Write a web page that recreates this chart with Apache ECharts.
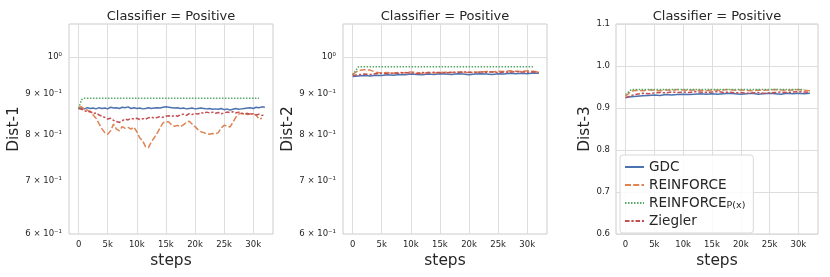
<!DOCTYPE html>
<html><head><meta charset="utf-8">
<script src="https://cdn.jsdelivr.net/npm/echarts@6/dist/echarts.min.js"></script>
<style>html,body{margin:0;padding:0;background:#fff}#c{width:830px;height:277px}</style>
</head><body><div id="c"></div><script>
// ---------- data ----------
const seriesNames = ['GDC', 'REINFORCE', 'REINFORCE_P(x)', 'Ziegler'];
const xTickValues = [0, 5000, 10000, 15000, 20000, 25000, 30000];
const logTickValues = [0.6, 0.7, 0.8, 0.9, 1.0];
const panelTitles = ['Classifier = Positive', 'Classifier = Positive', 'Classifier = Positive'];
const yNames = ['Dist-1', 'Dist-2', 'Dist-3'];

const steps1 = [0,500,1000,1500,2000,2500,3000,3500,4000,4500,5000,5500,6000,6500,7000,7500,8000,8500,9000,9500,
  10000,10500,11000,11500,12000,12500,13000,13500,14000,14500,15000,15500,16000,16500,17000,17500,18000,18500,19000,19500,
  20000,20500,21000,21500,22000,22500,23000,23500,24000,24500,25000,25500,26000,26500,27000,27500,28000,28500,29000,29500,
  30000,30500,31000,31500,32000];
const steps2 = [0,1000,2000,3000,4000,5000,6000,7000,8000,9000,10000,11000,12000,13000,14000,15000,16000,
  17000,18000,19000,20000,21000,22000,23000,24000,25000,26000,27000,28000,29000,30000,31000,32000];

// Dist-1 (500-step)
const d1_gdc = [0.862,0.863,0.861,0.864,0.862,0.863,0.861,0.864,0.862,0.863,0.861,0.865,0.863,0.864,0.862,0.865,0.864,0.866,0.862,0.864,
  0.862,0.863,0.861,0.862,0.864,0.862,0.863,0.864,0.863,0.865,0.866,0.865,0.864,0.863,0.864,0.862,0.863,0.861,0.862,0.863,
  0.861,0.862,0.863,0.862,0.861,0.862,0.860,0.861,0.860,0.862,0.859,0.861,0.858,0.860,0.862,0.860,0.861,0.862,0.863,0.864,
  0.862,0.865,0.864,0.866,0.865];
const d1_reinforce = [0.865,0.866,0.860,0.858,0.853,0.846,0.838,0.825,0.813,0.804,0.800,0.808,0.824,0.812,0.808,0.818,0.814,0.816,0.812,0.817,
  0.806,0.792,0.785,0.772,0.770,0.783,0.792,0.803,0.815,0.827,0.830,0.829,0.822,0.819,0.821,0.818,0.822,0.828,0.831,0.824,
  0.818,0.811,0.806,0.804,0.801,0.800,0.802,0.801,0.804,0.815,0.821,0.820,0.817,0.828,0.840,0.848,0.850,0.848,0.847,0.849,
  0.848,0.846,0.836,0.838,null];
const d1_px = [0.862,0.884,0.888,0.888,0.888,0.888,0.888,0.888,0.888,0.888,0.888,0.888,0.888,0.888,0.888,0.888,0.888,0.888,0.888,0.888,
  0.888,0.888,0.888,0.888,0.888,0.888,0.888,0.888,0.888,0.888,0.888,0.888,0.888,0.888,0.888,0.888,0.888,0.888,0.888,0.888,
  0.888,0.888,0.888,0.888,0.888,0.888,0.888,0.888,0.888,0.888,0.888,0.888,0.888,0.888,0.888,0.888,0.888,0.888,0.888,0.888,
  0.888,0.888,0.888,null,null];
const d1_ziegler = [0.862,0.860,0.857,0.853,0.855,0.849,0.851,0.846,0.843,0.840,0.836,0.838,0.833,0.830,0.828,0.832,0.836,0.834,0.838,0.836,
  0.838,0.835,0.837,0.836,0.839,0.841,0.838,0.840,0.842,0.840,0.843,0.844,0.842,0.845,0.843,0.846,0.848,0.845,0.849,0.847,
  0.850,0.848,0.852,0.850,0.853,0.851,0.853,0.850,0.852,0.849,0.851,0.853,0.852,0.854,0.851,0.853,0.850,0.848,0.850,0.847,
  0.849,0.846,0.848,0.845,0.846];

// Dist-2 (1000-step)
const d2_gdc = [0.945,0.947,0.948,0.947,0.949,0.948,0.950,0.949,0.951,0.950,0.952,0.951,0.950,0.952,0.951,0.953,0.952,
  0.951,0.953,0.952,0.950,0.952,0.953,0.952,0.951,0.953,0.952,0.954,0.953,0.954,0.953,0.955,0.954];
const d2_reinforce = [0.951,0.962,0.964,0.963,0.957,0.955,0.956,0.954,0.957,0.955,0.958,0.956,0.953,0.957,0.955,0.956,0.957,
  0.956,0.958,0.957,0.956,0.958,0.957,0.959,0.958,0.960,0.959,0.961,0.960,0.959,0.961,0.960,0.958];
const d2_px = [0.950,0.972,0.972,0.972,0.972,0.972,0.972,0.972,0.972,0.972,0.972,0.972,0.972,0.972,0.972,0.972,0.972,
  0.972,0.972,0.972,0.972,0.972,0.972,0.972,0.972,0.972,0.972,0.972,0.972,0.972,0.972,0.972,null];
const d2_ziegler = [0.948,0.950,0.952,0.951,0.953,0.954,0.953,0.955,0.954,0.956,0.955,0.953,0.956,0.955,0.957,0.956,0.955,
  0.957,0.956,0.958,0.957,0.956,0.958,0.957,0.958,0.956,0.958,0.957,0.959,0.958,0.957,0.958,0.957];

// Dist-3 (1000-step)
const d3_gdc = [0.925,0.927,0.928,0.929,0.930,0.931,0.930,0.932,0.931,0.932,0.933,0.932,0.933,0.934,0.933,0.934,0.933,
  0.934,0.935,0.934,0.933,0.934,0.935,0.933,0.934,0.935,0.934,0.933,0.935,0.934,0.935,0.934,0.935];
const d3_reinforce = [0.928,0.940,0.942,0.941,0.943,0.942,0.941,0.943,0.942,0.944,0.943,0.942,0.943,0.942,0.941,0.943,0.942,
  0.943,0.944,0.942,0.943,0.942,0.941,0.943,0.942,0.943,0.944,0.943,0.942,0.943,0.944,0.942,0.941];
const d3_px = [0.932,0.944,0.944,0.944,0.944,0.944,0.944,0.944,0.944,0.944,0.944,0.944,0.944,0.944,0.944,0.944,0.944,
  0.944,0.944,0.944,0.944,0.944,0.944,0.944,0.944,0.944,0.944,0.944,0.944,0.944,0.944,0.944,null];
const d3_ziegler = [0.924,0.930,0.933,0.935,0.934,0.936,0.937,0.936,0.938,0.937,0.938,0.937,0.939,0.938,0.937,0.938,0.939,
  0.937,0.938,0.936,0.937,0.935,0.936,0.937,0.935,0.936,0.937,0.938,0.937,0.938,0.939,0.938,0.937];

// ---------- styling ----------
const F = 'DejaVu Sans';
const TXT = '#262626';
const colors = ['#4c72b0', '#dd8452', '#55a868', '#c44e52'];
const dashes = ['solid', [6, 2.25], [1.5, 1.5], [4.5, 1.9, 2.25, 1.9]];
const grids = [
  {left: 69, top: 24, width: 204, height: 210},
  {left: 343, top: 24, width: 204, height: 210},
  {left: 616, top: 24, width: 202, height: 210}
];
const panelData = [
  [steps1, [d1_gdc, d1_reinforce, d1_px, d1_ziegler]],
  [steps2, [d2_gdc, d2_reinforce, d2_px, d2_ziegler]],
  [steps2, [d3_gdc, d3_reinforce, d3_px, d3_ziegler]]
];

const gridLineColor = '#dddddd';
const xAxes = grids.map((g, i) => ({
  type: 'value', gridIndex: i, min: -1650, max: 33400,
  name: 'steps', nameLocation: 'middle', nameGap: 16,
  nameTextStyle: {fontSize: 15.4, color: TXT, fontFamily: F},
  axisLine: {show: false},
  axisTick: {show: false, customValues: xTickValues},
  axisLabel: {customValues: xTickValues, fontSize: 8.5, color: TXT, fontFamily: F, margin: 6,
    formatter: v => v === 0 ? '0' : (v / 1000) + 'k'},
  splitLine: {show: true, lineStyle: {color: gridLineColor, width: 1}}
}));
const logFmt = v => Math.abs(v - 1) < 1e-6 ? '10\u2070' : Math.round(v * 10) + ' \u00d7 10\u207b\u00b9';
const yAxes = grids.map((g, i) => {
  const base = {
    gridIndex: i, name: yNames[i], nameLocation: 'middle', nameGap: i === 2 ? 22 : (i === 0 ? 40 : 41),
    nameTextStyle: {fontSize: 15.4, color: TXT, fontFamily: F},
    axisLine: {show: false},
    splitLine: {show: true, lineStyle: {color: gridLineColor, width: 1}}
  };
  if (i < 2) {
    return Object.assign(base, {
      type: 'log', logBase: 10, min: 0.6, max: 1.1,
      axisTick: {show: false, customValues: [1.0]},
      axisLabel: {customValues: logTickValues, formatter: logFmt, fontSize: 8.5, color: TXT, fontFamily: F, margin: 7,
        padding: [3, 0, 0, 0]}
    });
  }
  return Object.assign(base, {
    type: 'value', min: 0.6, max: 1.1, interval: 0.1,
    axisTick: {show: false},
    axisLabel: {formatter: v => v.toFixed(1), fontSize: 8.5, color: TXT, fontFamily: F, margin: 6}
  });
});

const series = [];
panelData.forEach(([st, arrs], gi) => {
  arrs.forEach((vals, si) => {
    series.push({
      type: 'line', name: seriesNames[si], xAxisIndex: gi, yAxisIndex: gi,
      data: st.map((s, k) => [s, vals[k]]),
      symbol: 'none', showSymbol: false, smooth: false, connectNulls: false, silent: true,
      animation: false, z: 2 + si,
      lineStyle: {color: colors[si], width: 1.5, type: dashes[si]},
      itemStyle: {color: colors[si]}
    });
  });
});

const chart = echarts.init(document.getElementById('c'), null, {renderer: 'canvas'});
chart.setOption({
  animation: false,
  backgroundColor: '#ffffff',
  title: grids.map((g, i) => ({
    text: panelTitles[i], left: g.left + g.width / 2, top: 10, textAlign: 'center', padding: 0,
    textStyle: {fontSize: 13, fontWeight: 'normal', color: TXT, fontFamily: F}
  })),
  grid: grids.map(g => Object.assign({show: true, borderColor: '#cccccc', borderWidth: 1, containLabel: false}, g)),
  xAxis: xAxes,
  yAxis: yAxes,
  legend: {
    data: seriesNames, orient: 'vertical', left: 620, top: 155,
    padding: [4, 8, 4, 4], itemGap: 2, itemWidth: 19, itemHeight: 10,
    itemStyle: {opacity: 0},
    backgroundColor: 'rgba(255,255,255,0.85)', borderColor: '#d8d8d8', borderWidth: 1, borderRadius: 3,
    textStyle: {fontSize: 13.6, color: TXT, fontFamily: F, lineHeight: 16,
      rich: {
        m: {fontSize: 13.6, color: TXT, fontFamily: F, lineHeight: 16},
        s: {fontSize: 9.5, color: TXT, fontFamily: F, lineHeight: 16, verticalAlign: 'bottom', padding: [6, 0, 0, 0]}
      }},
    formatter: n => n === 'REINFORCE_P(x)' ? '{m|REINFORCE}{s|P(x)}' : n
  },
  series: series
});
</script></body></html>
